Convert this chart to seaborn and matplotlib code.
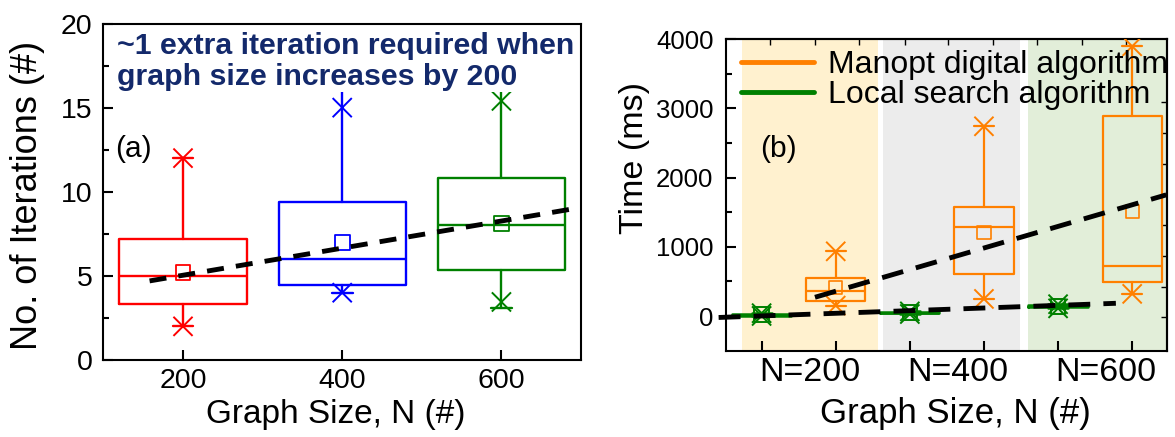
import matplotlib
matplotlib.use("Agg")
import matplotlib.pyplot as plt
from matplotlib.lines import Line2D
import pandas as pd
import seaborn as sns

# ---------------- Panel (a): iterations needed per graph size ----------------
graph_sizes = [200, 400, 600]
iter_q1 = [3.3, 4.45, 5.35]
iter_median = [5.0, 6.0, 8.0]
iter_q3 = [7.2, 9.4, 10.8]
iter_mean = [5.2, 7.0, 8.1]
iter_whisker_lo = [2.0, 4.0, 3.1]
iter_whisker_hi = [12.0, 16.5, 16.5]
iter_min = [2.0, 4.0, 3.45]
iter_max = [12.0, 15.0, 15.4]
iter_colors = ["#ff0000", "#0000ff", "#008000"]
iter_trend_n = [158, 688]
iter_trend_val = [4.7, 8.97]

# ---------------- Panel (b): run time of both algorithms ----------------
size_groups = ["N=200", "N=400", "N=600"]
algorithms = ["Manopt digital algorithm", "Local search algorithm"]
manopt_q1 = [224, 610, 494]
manopt_median = [358, 1283, 720]
manopt_q3 = [552, 1578, 2897]
manopt_mean = [416, 1211, 1506]
manopt_lo = [152, 248, 321]
manopt_hi = [936, 2743, 3899]
local_q1 = [8, 38, 128]
local_median = [18, 48, 142]
local_q3 = [30, 60, 156]
local_mean = [20, 50, 142]
local_lo = [2, 30, 112]
local_hi = [42, 68, 172]
manopt_trend_slot = [0.72, 5.46]
manopt_trend_ms = [272, 1752]
local_trend_slot = [-0.58, 4.78]
local_trend_ms = [-20, 185]

ORANGE = "#ff8000"
GREEN = "#008000"
NAVY = "#13296b"

sns.set_theme(style="ticks")
plt.rcParams.update({
    "font.family": ["Liberation Sans", "DejaVu Sans"],
    "axes.edgecolor": "black",
    "axes.linewidth": 1.5,
    "xtick.direction": "in",
    "ytick.direction": "in",
    "xtick.color": "black",
    "ytick.color": "black",
    "text.color": "black",
    "axes.labelcolor": "black",
})


def box_stats(q1, med, q3, lo, hi, mean):
    return [dict(q1=a, med=m, q3=b, whislo=l, whishi=h, mean=mu, fliers=[])
            for a, m, b, l, h, mu in zip(q1, med, q3, lo, hi, mean)]


def color_boxes(art, colors, lw):
    for i, c in enumerate(colors):
        for line in [art["boxes"][i], art["medians"][i],
                     art["whiskers"][2 * i], art["whiskers"][2 * i + 1],
                     art["caps"][2 * i], art["caps"][2 * i + 1]]:
            line.set_color(c)
            line.set_linewidth(lw)


fig = plt.figure(figsize=(11.75, 4.37), dpi=100)

# ======================= (a) =======================
ax1 = fig.add_axes([0.0880, 0.1762, 0.4065, 0.7700])
stats_a = box_stats(iter_q1, iter_median, iter_q3,
                    iter_whisker_lo, iter_whisker_hi, iter_mean)
art_a = ax1.bxp(stats_a, positions=graph_sizes, widths=160, capwidths=26,
                showfliers=False, manage_ticks=False, zorder=2)
color_boxes(art_a, iter_colors, 1.7)

ax1.scatter(graph_sizes, iter_mean, marker="s", s=115, facecolors="none",
            edgecolors=iter_colors, linewidths=1.3, zorder=4)

ext_a = pd.DataFrame({
    "n": graph_sizes * 2,
    "value": iter_max + iter_min,
    "size": [str(n) for n in graph_sizes] * 2,
})
sns.scatterplot(data=ext_a, x="n", y="value", hue="size",
                palette=dict(zip([str(n) for n in graph_sizes], iter_colors)),
                marker="x", s=190, linewidth=1.4, legend=False, ax=ax1,
                zorder=4)

sns.lineplot(x=iter_trend_n, y=iter_trend_val, color="black", lw=3.5,
             linestyle=(0, (3.5, 2.5)), ax=ax1, zorder=5)

ax1.set_xlim(100, 700)
ax1.set_ylim(0, 20)
ax1.set_xticks(graph_sizes)
ax1.set_yticks([0, 5, 10, 15, 20])
ax1.set_yticks([2.5, 7.5, 12.5, 17.5], minor=True)
ax1.tick_params(axis="both", which="major", labelsize=20.5, length=7,
                width=1.5)
ax1.tick_params(axis="x", pad=5.5)
ax1.tick_params(axis="y", pad=8)
ax1.tick_params(axis="y", which="minor", length=4, width=1.5)
ax1.set_xlabel("Graph Size, N (#)", fontsize=24)
ax1.set_ylabel("No. of Iterations (#)", fontsize=26)
ax1.xaxis.set_label_coords(0.486, -0.117)
ax1.yaxis.set_label_coords(-0.122, 0.49)

ax1.text(0.0285, 0.975,
         "~1 extra iteration required when\ngraph size increases by 200",
         transform=ax1.transAxes, ha="left", va="top", fontsize=21.8,
         fontweight="bold", color=NAVY, linespacing=1.13, zorder=6,
         bbox=dict(facecolor="white", edgecolor="none", pad=1.0))
ax1.text(0.062, 0.628, "(a)", transform=ax1.transAxes, ha="center",
         va="center", fontsize=21.5)

# ======================= (b) =======================
ax2 = fig.add_axes([0.6179, 0.1975, 0.3753, 0.7126])

# shaded bands behind each graph-size group
band_colors = ["#fff1cf", "#ececec", "#e2eed9"]
band_edges = [(-0.27, 1.57), (1.64, 3.49), (3.60, 5.6)]
for (x0, x1), c in zip(band_edges, band_colors):
    ax2.axvspan(x0, x1, color=c, lw=0, zorder=0)

local_slots = [2 * g for g in range(len(size_groups))]
manopt_slots = [2 * g + 1 for g in range(len(size_groups))]

stats_m = box_stats(manopt_q1, manopt_median, manopt_q3,
                    manopt_lo, manopt_hi, manopt_mean)
art_m = ax2.bxp(stats_m, positions=manopt_slots, widths=0.8, capwidths=0.27,
                showfliers=False, manage_ticks=False, zorder=2)
color_boxes(art_m, [ORANGE] * 3, 1.6)

stats_l = box_stats(local_q1, local_median, local_q3,
                    local_lo, local_hi, local_mean)
art_l = ax2.bxp(stats_l, positions=local_slots, widths=0.8, capwidths=0.27,
                showfliers=False, manage_ticks=False, zorder=2)
color_boxes(art_l, [GREEN] * 3, 1.8)

ax2.scatter(manopt_slots, manopt_mean, marker="s", s=90, facecolors="none",
            edgecolors=ORANGE, linewidths=1.2, zorder=4)
ax2.scatter(local_slots, local_mean, marker="s", s=110, facecolors="none",
            edgecolors=GREEN, linewidths=1.4, zorder=4)

ext_b = pd.DataFrame({
    "slot": manopt_slots * 2 + local_slots * 2,
    "ms": manopt_hi + manopt_lo + local_hi + local_lo,
    "algorithm": [algorithms[0]] * 6 + [algorithms[1]] * 6,
})
sns.scatterplot(data=ext_b, x="slot", y="ms", hue="algorithm",
                palette={algorithms[0]: ORANGE, algorithms[1]: GREEN},
                marker="x", s=190, linewidth=1.4, legend=False, ax=ax2,
                zorder=4)

sns.lineplot(x=manopt_trend_slot, y=manopt_trend_ms, color="black", lw=3.5,
             linestyle=(0, (4.5, 2.7)), ax=ax2, zorder=5)
sns.lineplot(x=local_trend_slot, y=local_trend_ms, color="black", lw=3.5,
             linestyle=(0, (4.5, 2.7)), ax=ax2, zorder=5, clip_on=False)

ax2.set_xlim(-0.48, 5.47)
ax2.set_ylim(-500, 4000)
ax2.set_xticks(local_slots + manopt_slots)
ax2.set_xticklabels([])
ax2.set_xticks([s + 0.65 for s in local_slots], minor=True)
ax2.set_xticklabels(size_groups, minor=True)
ax2.set_yticks([0, 1000, 2000, 3000, 4000])
ax2.set_yticks([500, 1500, 2500, 3500], minor=True)
ax2.tick_params(axis="x", which="major", length=7, width=1.5)
ax2.tick_params(axis="x", which="minor", length=0, labelsize=24.5, pad=4.5)
ax2.tick_params(axis="y", which="major", length=7, width=1.5,
                labelsize=18.5, pad=9)
ax2.tick_params(axis="y", which="minor", length=4, width=1.5)

top_ax = ax2.secondary_xaxis("top")
top_ax.set_xticks([0.11, 0.72, 1.32, 1.93, 2.51, 3.12, 3.71, 4.32, 4.92])
top_ax.tick_params(length=4, width=1.0, labeltop=False, direction="in")
right_ax = ax2.secondary_yaxis("right")
right_ax.set_yticks([-20, 420, 870, 1320, 1760, 2200, 2650, 3100])
right_ax.tick_params(length=4, width=1.0, labelright=False, direction="in")

ax2.set_xlabel("Graph Size, N (#)", fontsize=25)
ax2.set_ylabel("Time (ms)", fontsize=24.5)
ax2.xaxis.set_label_coords(0.519, -0.148)
ax2.yaxis.set_label_coords(-0.172, 0.619)

handles = [Line2D([], [], color=ORANGE, lw=3.5),
           Line2D([], [], color=GREEN, lw=3.5)]
ax2.legend(handles, algorithms, loc="upper left",
           bbox_to_anchor=(0.0333, 0.966), frameon=False, fontsize=23,
           handlelength=2.3, handletextpad=0.42, borderpad=0,
           borderaxespad=0, labelspacing=0.0)
ax2.text(0.118, 0.648, "(b)", transform=ax2.transAxes, ha="center",
         va="center", fontsize=21.5)

fig.savefig("out.png", dpi=100)
